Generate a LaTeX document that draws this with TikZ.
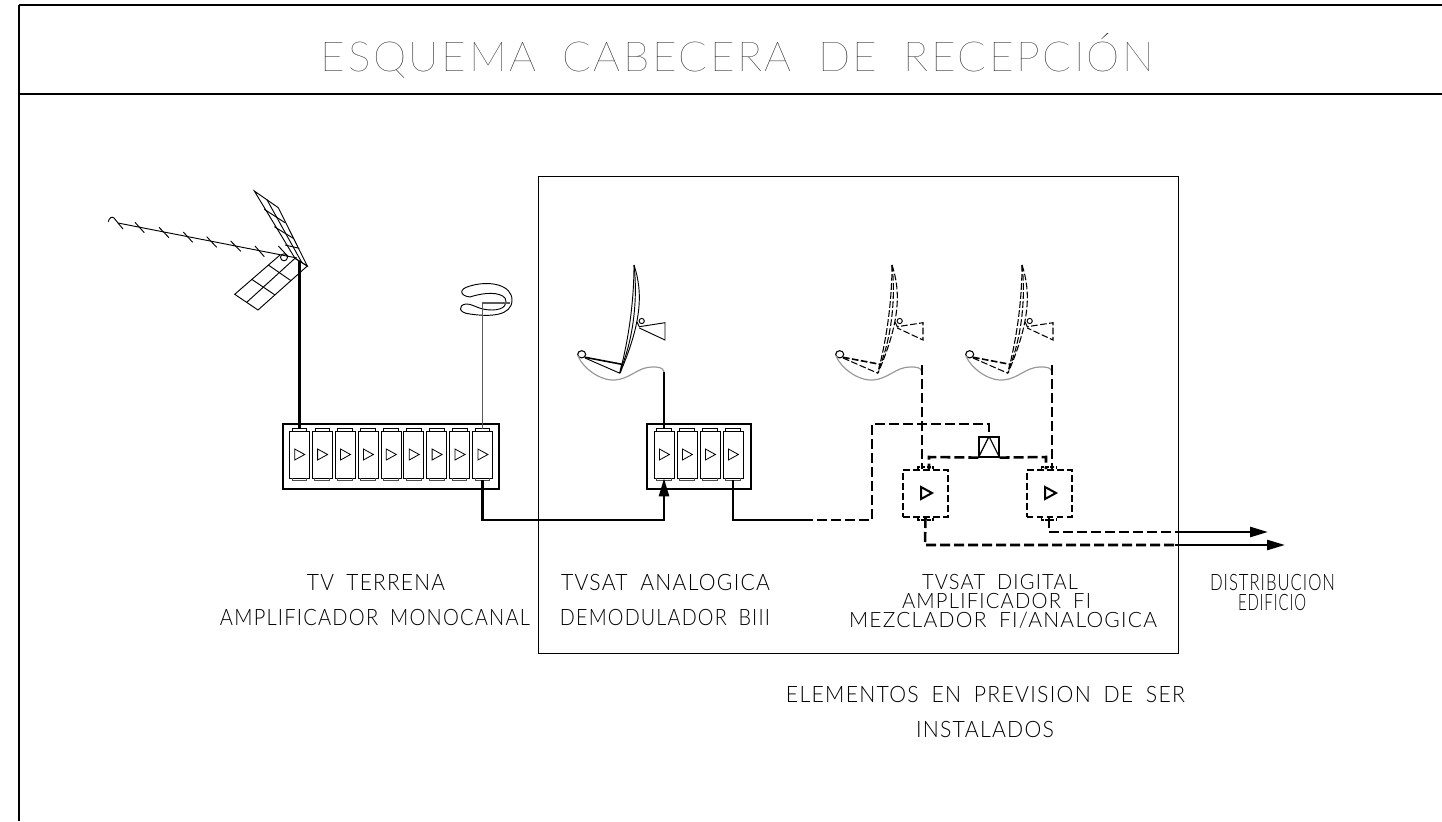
\documentclass[tikz,border=0pt]{standalone}
\usepackage{fontspec}
\usepackage{graphicx}
\usetikzlibrary{arrows.meta,calc}
\newfontfamily\cad[LetterSpace=6,WordSpace=1.8]{Lato Light}
\newfontfamily\cadthin[LetterSpace=6,WordSpace=1.8]{Lato Thin}
\newdimen\pxu \pxu=0.75pt
\newcommand{\lbl}[6]{\node[inner sep=0pt,anchor=base] (#1) at (#2,#3) {\resizebox{#4\pxu}{#5\pxu}{\sbox0{\cad E}\rule{0pt}{\ht0}\smash{\cad #6}}};}
\newcommand{\lblthin}[6]{\node[inner sep=0pt,anchor=base] (#1) at (#2,#3) {\resizebox{#4\pxu}{#5\pxu}{\sbox0{\cadthin E}\rule{0pt}{\ht0}\smash{\cadthin #6}}};}
\tikzset{
  thin1/.style={line width=0.75pt,black},
  frameline/.style={line width=1.9pt,black},
  wire/.style={line width=1.9pt,black},
  dwire/.style={line width=1.9pt,black,dash pattern=on 7.5pt off 3pt},
  tip/.style={-{Triangle[length=13.5pt,width=7.5pt]}},
  ampbox/.style={draw,line width=1.5pt,inner sep=0pt},
  modbox/.style={draw,line width=0.6pt,inner sep=0pt,minimum width=15pt,minimum height=35.25pt,fill=white},
  damp/.style={draw,line width=1.5pt,dash pattern=on 5pt off 2.5pt,inner sep=0pt,minimum width=33.75pt,minimum height=35.25pt},
  dishd/.style={line width=0.8pt,dash pattern=on 5pt off 1.8pt},
  dishs/.style={line width=0.7pt},
}
% module with tabs and triangle
\newcommand{\module}[2]{%
  \node[modbox] (#1) at (#2,454.5) {};
  \draw[line width=0.6pt] ($(#1.north)+(-7.3,0)$) -- ++(0,-2) -- ++(14.6,0) -- ++(0,2);
  \draw[line width=0.7pt,black!70] ($(#1.south)+(-7.3,0)$) -- ++(0,2) -- ++(14.6,0) -- ++(0,-2);
  \draw[line width=0.6pt] ($(#1.center)+(-4.6,-5.5)$) -- ++(10,5.5) -- ++(-10,5.5) -- cycle;
}
% dish: #1 x shift, #2 style
\newcommand{\dish}[2]{%
  \begin{scope}[shift={(#1,0)}]
    \draw[#2] (634,265) .. controls (643,292) and (642,322) .. (620,373);
    \draw[#2] (634,265) .. controls (634,300) and (629,335) .. (622,364);
    \draw[#2] (634,265) .. controls (638,300) and (633,338) .. (622,366);
    \draw[line width=0.7pt] (641.7,321) circle (2.6);
    \draw[#2] (637,322) -- (639.3,326.7) -- (665,322.7) -- (665,340) -- (639.3,328);
    \draw[line width=0.8pt] (581.7,354.3) ellipse (4 and 3.6);
    \draw[#2,line width=1.2pt] (585,357.3) -- (622,364.3) -- (620,373);
    \draw[#2] (585,358) -- (620,373.3);
    \draw[line width=0.9pt,black!40] (578,356) .. controls (583,368) and (600,381) .. (615,380) .. controls (630,379) and (638,367) .. (652,367) .. controls (658,367) and (663,367) .. (664,372);
  \end{scope}
}
\begin{document}
\begin{tikzpicture}[x=0.75pt,y=-0.75pt]
\useasboundingbox (0,0) rectangle (1442,821);
% frame
\coordinate (f1) at (1442,5);
\coordinate (f2) at (19,5);
\coordinate (f3) at (19,821);
\coordinate (f4) at (19,94);
\coordinate (f5) at (1442,94);
\draw[frameline] (f1) -- (f2);
\draw[line width=1.1pt] (f2) -- (f3);
\draw[frameline] (f4) -- (f5);
\node[draw,line width=0.55pt,inner sep=0pt,minimum width=480pt,minimum height=357.75pt] (zone) at (858,414.5) {};
% title
\lblthin{title}{737.5}{71}{833}{29}{ESQUEMA CABECERA DE RECEPCIÓN}
% labels
\lbl{l1}{376}{590}{138}{16}{TV TERRENA}
\lbl{l2}{375}{625}{310}{16}{AMPLIFICADOR MONOCANAL}
\lbl{l3}{665.5}{590}{209}{16}{TVSAT ANALOGICA}
\lbl{l4}{665}{625}{210}{16}{DEMODULADOR BIII}
\lbl{l5}{1000}{589}{156}{15}{TVSAT DIGITAL}
\lbl{l6}{996.5}{608}{189}{15}{AMPLIFICADOR FI}
\lbl{l7}{1003}{627}{308}{15}{MEZCLADOR FI/ANALOGICA}
\lbl{l8}{1272.5}{590}{125}{16}{DISTRIBUCION}
\lbl{l9}{1272}{610}{68}{16}{EDIFICIO}
\lbl{l10}{985.5}{702}{399}{16}{ELEMENTOS EN PREVISION DE SER}
\lbl{l11}{985}{737}{138}{16}{INSTALADOS}
% antenna
\begin{scope}[line width=0.7pt]
  \draw (108.3,221.7) .. controls (109,218) and (112,216) .. (114,218) -- (118,223) -- (297,258);
  \draw (118,223) -- (123,229);
  \draw (135,222.3) -- (144.3,232.7);
  \draw (159,227.3) -- (169,237.7);
  \draw (183.3,232) -- (192.7,242.3);
  \draw (206.7,236.7) -- (216.7,247.3);
  \draw (230.7,241) -- (240.7,251.3);
  \draw (255,246) -- (264.3,256.7);
  \draw (278.3,246) -- (288.3,256.7);
  \draw (284,257.3) circle (3.5);
  \draw (295,258.3) -- (254.3,191) -- (278.3,207.7) -- (307.3,266) -- cycle;
  \draw (266.7,199.3) -- (301.7,262.3);
  \draw (264.3,209.3) -- (285,222.7);
  \draw (274.3,226.7) -- (293.3,238.3);
  \draw (285,245) -- (299.3,248.3);
  \draw (280,255) -- (234.7,294.3) -- (258,310) -- (307.3,266) -- (295,258.3);
  \draw (246.7,302.3) -- (295,258.3);
  \draw (251.7,279.3) -- (275,295);
  \draw (268.3,265) -- (291,280.7);
\end{scope}
% loop antenna
\draw[line width=0.7pt] (470,297) .. controls (460,296) and (458,289) .. (470,286) .. controls (490,280) and (512,285) .. (512,300) .. controls (512,316) and (490,317) .. (470,314) .. controls (458,313) and (458,305) .. (466,304) .. controls (474,304) and (478,310) .. (492,310) .. controls (505,310) and (508,303) .. (505,298) .. controls (500,292) and (485,292) .. (470,297);
% dishes
\dish{0}{dishs}
\dish{258}{dishd}
\dish{388}{dishd}
% amp boxes
\node[ampbox,minimum width=162pt,minimum height=48.75pt] (boxa) at (391,456.5) {};
\node[ampbox,minimum width=78pt,minimum height=48.75pt] (boxb) at (699,456.5) {};
\foreach \i [evaluate=\i as \xx using 299.3+22.9*(\i-1)] in {1,...,9} {\module{a\i}{\xx}}
\foreach \i [evaluate=\i as \xx using 664+23*(\i-1)] in {1,...,4} {\module{b\i}{\xx}}
% antenna connectors
\coordinate (mast) at (299.3,261);
\draw[line width=2.1pt] (mast) -- ($(a1.north)+(0,-2)$);
\coordinate (ringend) at (510,303);
\coordinate (ringcorner) at (a9.north |- ringend);
\draw[line width=0.9pt,black!65] (ringend) -- (ringcorner) -- ($(a9.north)+(0,-2)$);
\coordinate (dish1) at (664,372);
\draw[wire] (dish1) -- ($(b1.north)+(0,-2)$);
% bus connectors
\coordinate (bus) at (0,520);
\draw[wire,tip] ($(a9.south)+(0,2)$) -- (a9.south |- bus) -| (b1.south);
\coordinate (sw) at (803,520);
\draw[wire] ($(b4.south)+(0,2)$) -- (b4.south |- bus) -- (sw);
% dashed amps and multiswitch
\node[damp] (da) at (925.5,493.5) {};
\node[damp] (db) at (1049,493.5) {};
\draw[line width=1.5pt] (921,487) -- (932,493) -- (921,499) -- cycle;
\draw[line width=1.5pt] (1045,487) -- (1056,493) -- (1045,499) -- cycle;
\draw[line width=1.2pt,dash pattern=on 3pt off 1pt] ($(da.north)+(-7.5,0)$) -- ++(0,-2) -- ++(15,0) -- ++(0,2);
\draw[line width=1.2pt,dash pattern=on 3pt off 1pt] ($(da.south)+(-7.5,0)$) -- ++(0,2) -- ++(15,0) -- ++(0,-2);
\draw[line width=1.2pt,dash pattern=on 3pt off 1pt] ($(db.north)+(-7.5,0)$) -- ++(0,-2) -- ++(15,0) -- ++(0,2);
\draw[line width=1.2pt,dash pattern=on 3pt off 1pt] ($(db.south)+(-7.5,0)$) -- ++(0,2) -- ++(15,0) -- ++(0,-2);
\node[draw,line width=0.9pt,inner sep=0pt,minimum width=15pt,minimum height=15pt] (mix) at (989,447) {};
\draw[line width=0.9pt] (mix.north) -- (mix.south west) (mix.north) -- (mix.south east);
\coordinate (c1) at (872,520);
\coordinate (c2) at (872,424);
\coordinate (c3) at (989,424);
\draw[dwire] (sw) -- (c1) -- (c2) -- (c3) -- (mix.north);
\coordinate (l1a) at (929,457);
\coordinate (l2a) at (1046,457);
\draw[dwire] (mix.south west) -- (l1a) -- (l1a |- da.north);
\draw[dwire] (mix.south east) -- (l2a) -- (l2a |- db.north);
\coordinate (d2) at (922,365);
\coordinate (d3) at (1052,365);
\draw[line width=1.2pt,dash pattern=on 7.5pt off 3pt] (d2) -- (d2 |- da.north);
\draw[line width=1.2pt,dash pattern=on 7.5pt off 3pt] (d3) -- (d3 |- db.north);
% outputs
\coordinate (o1) at (925,545);
\coordinate (o1b) at (1175,545);
\coordinate (o1c) at (1285,545);
\coordinate (o2) at (1049,532);
\coordinate (o2b) at (1175,532);
\coordinate (o2c) at (1268,532);
\draw[dwire] (da.south) -- (o1) -- (o1b);
\draw[wire,tip] (o1b) -- (o1c);
\draw[dwire] (db.south) -- (o2) -- (o2b);
\draw[wire,tip] (o2b) -- (o2c);
\end{tikzpicture}
\end{document}
